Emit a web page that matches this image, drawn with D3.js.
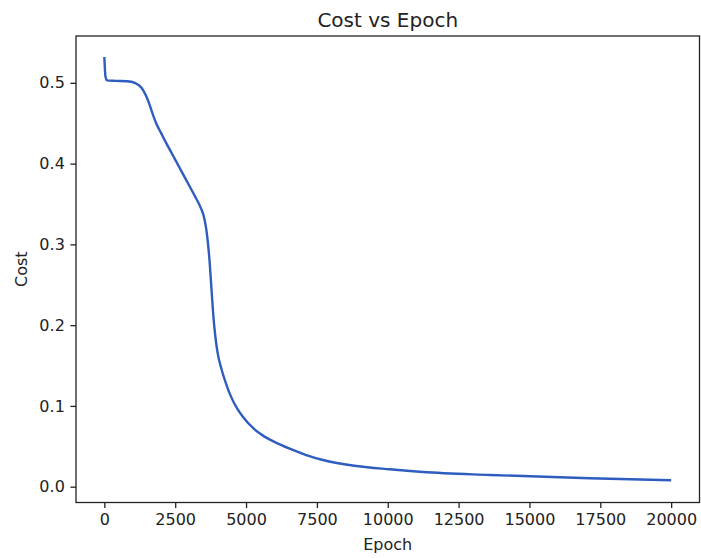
<!DOCTYPE html>
<html>
<head>
<meta charset="utf-8">
<script src="https://cdn.jsdelivr.net/npm/d3@7"></script>
<style>
  body { margin: 0; background: #fff; }
  text { font-family: "DejaVu Sans", sans-serif; fill: #222; }
</style>
</head>
<body>
<div id="draw"></div>
<script>
// values
var epochs = [0, 40, 100, 400, 800, 1075, 1310, 1545, 1700, 1840, 2000, 2190, 2500, 2790, 3190, 3367, 3500, 3600, 3700, 3780,
              3850, 3920, 4000, 4130, 4300, 4450, 4700, 4900, 5300, 5600, 6000, 6541, 7100, 7715, 8893, 10067, 11241, 13593, 17120, 20000];
var costs = [0.532, 0.508, 0.503, 0.5025, 0.502, 0.500, 0.494, 0.478, 0.462, 0.449, 0.438, 0.425, 0.405, 0.386, 0.360, 0.348, 0.336, 0.318, 0.285, 0.245,
             0.21, 0.185, 0.165, 0.146, 0.127, 0.113, 0.096, 0.086, 0.071, 0.0632, 0.0555, 0.047, 0.0395, 0.033, 0.0256, 0.0215, 0.0182, 0.0145, 0.0104, 0.0079];
var xTicks = [0, 2500, 5000, 7500, 10000, 12500, 15000, 17500, 20000];
var yTicks = [0.0, 0.1, 0.2, 0.3, 0.4, 0.5];

var width = 701, height = 558;
var plotLeft = 76, plotRight = 699.5, plotTop = 36, plotBottom = 502.5;

var svg = d3.select("#draw").append("svg")
	.attr("width", width)
	.attr("height", height);

var x = d3.scaleLinear().domain([-1000, 21000]).range([plotLeft, plotRight]);
var y = d3.scaleLinear().domain([-0.0196, 0.558]).range([plotBottom, plotTop]);

var data = epochs.map(function(e, i){ return {e: e, c: costs[i]}; });

var line = d3.line()
	.x(function(d){ return x(d.e); })
	.y(function(d){ return y(d.c); })
	.curve(d3.curveMonotoneX);

svg.append("path")
	.datum(data)
	.attr("d", line)
	.attr("fill", "none")
	.attr("stroke", "#2e5cbf")
	.attr("stroke-width", 2.4);

var xAxis = svg.append("g")
	.attr("transform", "translate(0," + plotBottom + ")")
	.call(d3.axisBottom(x).tickValues(xTicks).tickFormat(d3.format("d")).tickSize(5.6).tickPadding(5.6));
var yAxis = svg.append("g")
	.attr("transform", "translate(" + plotLeft + ",0)")
	.call(d3.axisLeft(y).tickValues(yTicks).tickFormat(d3.format(".1f")).tickSize(5.6).tickPadding(5.6));

[xAxis, yAxis].forEach(function(a){
	a.select(".domain").remove();
	a.selectAll(".tick line").attr("stroke", "#222").attr("stroke-width", 1.3);
	a.selectAll(".tick text").style("font-size", "16px").attr("fill", "#222")
		.style("font-family", "DejaVu Sans, sans-serif");
});

// frame
svg.append("rect")
	.attr("x", plotLeft)
	.attr("y", plotTop)
	.attr("width", plotRight - plotLeft)
	.attr("height", plotBottom - plotTop)
	.attr("fill", "none")
	.attr("stroke", "#222")
	.attr("stroke-width", 1.3);

svg.append("text")
	.attr("x", (plotLeft + plotRight) / 2)
	.attr("y", 26.5)
	.attr("text-anchor", "middle")
	.style("font-size", "20px")
	.text("Cost vs Epoch");

svg.append("text")
	.attr("x", (plotLeft + plotRight) / 2)
	.attr("y", 550)
	.attr("text-anchor", "middle")
	.style("font-size", "16px")
	.text("Epoch");

svg.append("text")
	.attr("transform", "translate(27," + (plotTop + plotBottom) / 2 + ") rotate(-90)")
	.attr("text-anchor", "middle")
	.style("font-size", "16px")
	.text("Cost");
</script>
</body>
</html>
